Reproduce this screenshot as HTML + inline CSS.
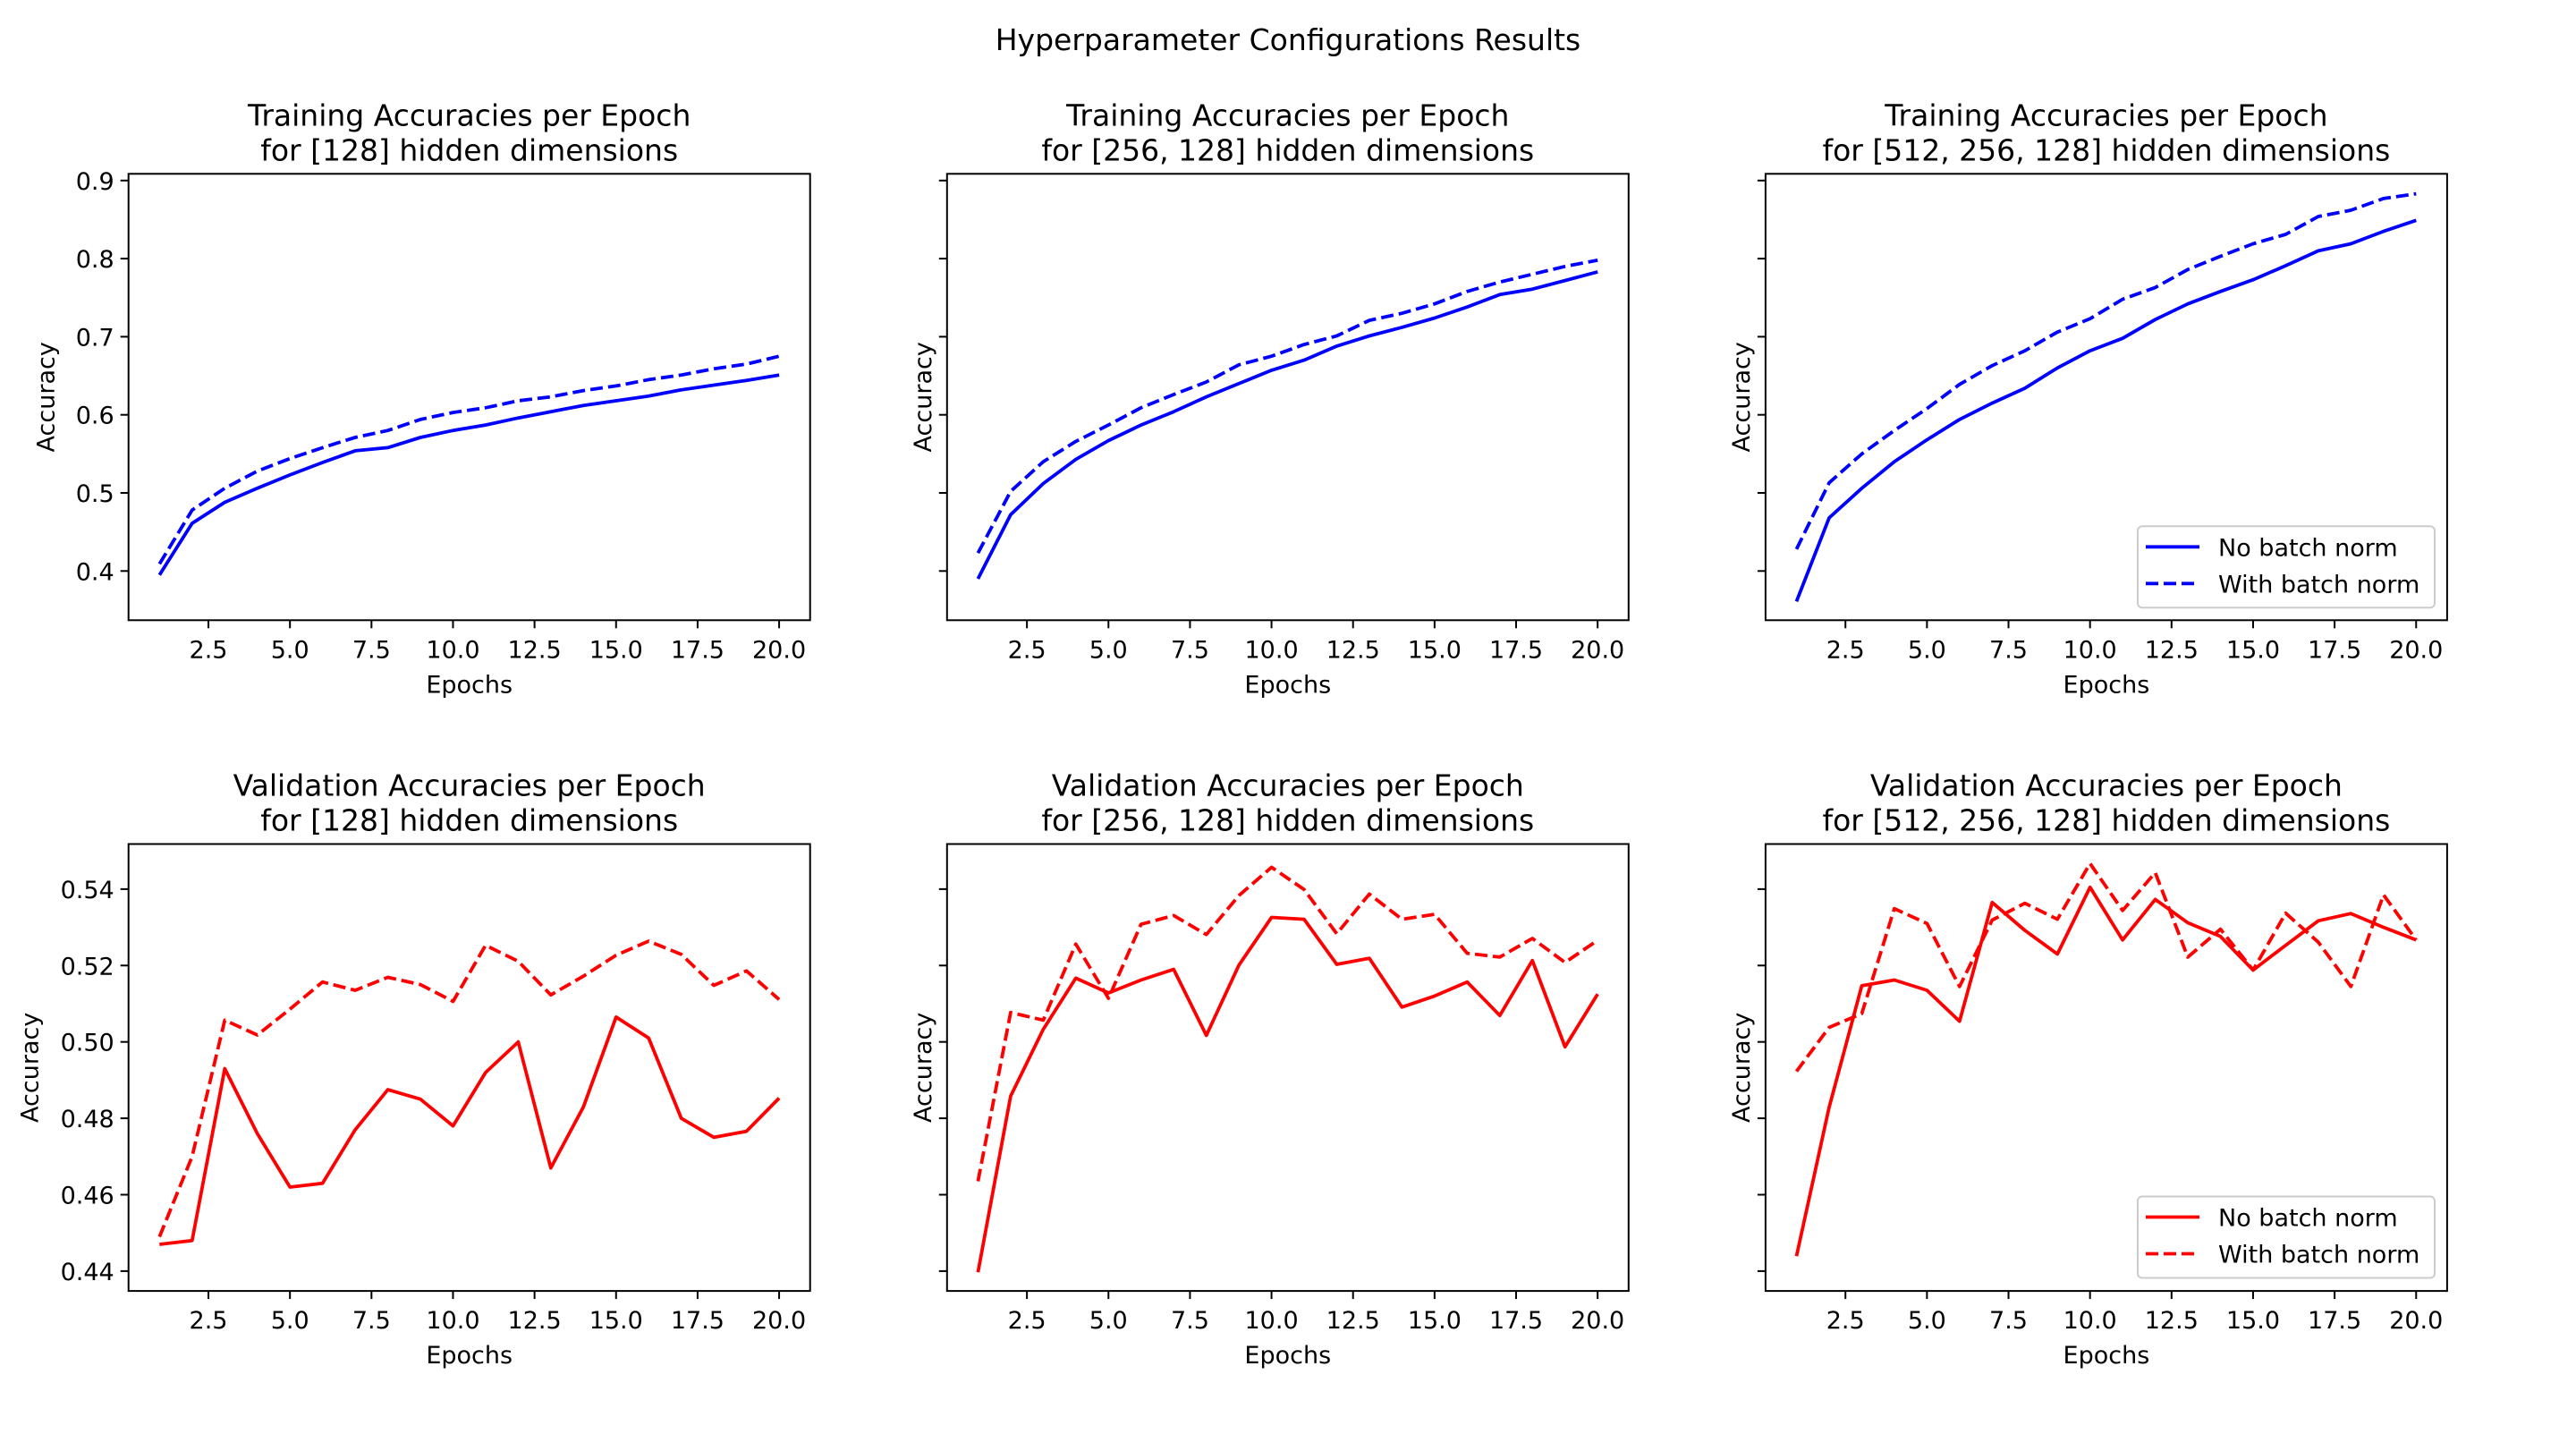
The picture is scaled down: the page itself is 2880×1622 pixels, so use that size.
<!DOCTYPE html>
<html><head><meta charset="utf-8">
<style>
html,body{margin:0;padding:0;background:#fff;}
svg{display:block;font-family:"DejaVu Sans","Liberation Sans",sans-serif;}
</style></head>
<body>
<svg id="fig" width="2880" height="1622" viewBox="0 0 2880 1622" xmlns="http://www.w3.org/2000/svg">
<rect width="2880" height="1622" fill="#fff"/>
<text x="1440" y="56" font-size="33" text-anchor="middle">Hyperparameter Configurations Results</text>
</svg>
<script>
const epochs = [1,2,3,4,5,6,7,8,9,10,11,12,13,14,15,16,17,18,19,20];
const xTicks = [2.5,5.0,7.5,10.0,12.5,15.0,17.5,20.0];
const trainTicks = [0.4,0.5,0.6,0.7,0.8,0.9];
const valTicks = [0.44,0.46,0.48,0.50,0.52,0.54];
const dims = ["[128]","[256, 128]","[512, 256, 128]"];

const train128No = [.395,.461,.488,.506,.523,.539,.554,.558,.571,.580,.587,.596,.604,.612,.618,.624,.632,.638,.644,.651];
const train128Bn = [.409,.478,.506,.528,.544,.558,.571,.580,.594,.603,.609,.618,.623,.631,.637,.645,.651,.659,.665,.675];
const train256No = [.390,.472,.512,.543,.567,.587,.604,.623,.640,.657,.670,.688,.701,.712,.724,.738,.754,.761,.772,.783];
const train256Bn = [.423,.502,.540,.566,.587,.609,.626,.642,.664,.675,.690,.701,.721,.730,.742,.758,.770,.780,.790,.798];
const train512No = [.361,.468,.506,.540,.568,.594,.615,.634,.660,.682,.698,.722,.742,.758,.773,.791,.810,.819,.835,.849];
const train512Bn = [.428,.513,.550,.580,.608,.639,.663,.682,.706,.723,.748,.763,.786,.803,.819,.831,.854,.862,.877,.883];

const val128No = [.447,.448,.493,.476,.462,.463,.477,.4875,.485,.478,.492,.500,.467,.483,.5065,.501,.480,.475,.4766,.4853];
const val128Bn = [.449,.470,.5057,.5018,.5086,.5157,.5135,.5169,.515,.5106,.5253,.5211,.5123,.5172,.5227,.5264,.5229,.5148,.5186,.5111];
const val256No = [.4397,.4858,.5033,.5167,.5128,.5162,.519,.5017,.5201,.5326,.5321,.5203,.5219,.5091,.512,.5157,.5069,.5213,.4987,.5125];
const val256Bn = [.4635,.5077,.5057,.5256,.5114,.5308,.5331,.5281,.5383,.5457,.5399,.5283,.5387,.5321,.5334,.5232,.5222,.5271,.5208,.5266];
const val512No = [.4439,.4829,.5147,.5162,.5135,.5054,.5365,.5292,.523,.5405,.5267,.5373,.5312,.5276,.5188,.5253,.5317,.5336,.53,.5267];
const val512Bn = [.4923,.5038,.5074,.5349,.531,.5145,.5319,.5363,.5321,.5467,.5344,.5443,.5222,.5295,.5188,.5337,.5261,.5145,.5385,.5267];

const NS = "http://www.w3.org/2000/svg";
const svg = document.getElementById('fig');
function mk(tag, attrs, parent){
  const e = document.createElementNS(NS, tag);
  for (const k in attrs) e.setAttribute(k, attrs[k]);
  (parent||svg).appendChild(e);
  return e;
}
const colLeft = [143.7, 1058.8, 1973.9];
const W = 762;
const rows = [
  {top:194.3, bottom:693.3, ymin:0.337, ymax:0.9086, ticks:trainTicks, fmt:v=>v.toFixed(1), color:'blue',
   name:'Training', series:[[train128No,train128Bn],[train256No,train256Bn],[train512No,train512Bn]], ylabX:63},
  {top:943.5, bottom:1443.1, ymin:0.4348, ymax:0.5518, ticks:valTicks, fmt:v=>v.toFixed(2), color:'red',
   name:'Validation', series:[[val128No,val128Bn],[val256No,val256Bn],[val512No,val512Bn]], ylabX:45}
];
rows.forEach((r, ri) => {
  for (let c = 0; c < 3; c++) {
    const L = colLeft[c];
    const xs = v => L + (v - 0.05) / (20.95 - 0.05) * W;
    const ys = v => r.bottom - (v - r.ymin) / (r.ymax - r.ymin) * (r.bottom - r.top);
    const g = mk('g', {});
    
    
    const t1 = mk('text', {x:L+W/2, y:r.top-54, 'font-size':33, 'text-anchor':'middle'}, g);
    t1.textContent = r.name + ' Accuracies per Epoch';
    
    
    const t2 = mk('text', {x:L+W/2, y:r.top-15, 'font-size':33, 'text-anchor':'middle'}, g);
    t2.textContent = 'for ' + dims[c] + ' hidden dimensions';
    
    
    const [no, bn] = r.series[c];
    [[no,null,'no-batch-norm-line'],[bn,'14 6','batch-norm-line']].forEach(([arr, dash, nm]) => {
      const pts = epochs.map((e,i) => xs(e).toFixed(1) + ',' + ys(arr[i]).toFixed(1)).join(' ');
      const a = {points:pts, fill:'none', stroke:r.color, 'stroke-width':3.8, 'stroke-linejoin':'round'};
      if (dash) a['stroke-dasharray'] = dash;
      const pl = mk('polyline', a, g);
      
      
    });
    const fr = mk('rect', {x:L, y:r.top, width:W, height:r.bottom-r.top, fill:'none', stroke:'#000', 'stroke-width':2}, g);
    
    
    xTicks.forEach(v => {
      const x = xs(v);
      mk('line', {x1:x, x2:x, y1:r.bottom, y2:r.bottom+9, stroke:'#000', 'stroke-width':2}, g);
      const tl = mk('text', {x:x, y:r.bottom+42, 'font-size':27, 'text-anchor':'middle'}, g);
      tl.textContent = v.toFixed(1);
      
      
    });
    const xl = mk('text', {x:L+W/2, y:r.bottom+81, 'font-size':27, 'text-anchor':'middle'}, g);
    xl.textContent = 'Epochs';
    
    
    r.ticks.forEach(v => {
      const y = ys(v);
      mk('line', {x1:L-9, x2:L, y1:y, y2:y, stroke:'#000', 'stroke-width':2}, g);
      if (c === 0) {
        const tl = mk('text', {x:L-16, y:y+10, 'font-size':27, 'text-anchor':'end'}, g);
        tl.textContent = r.fmt(v);
        
        
      }
    });
    const lx = c === 0 ? r.ylabX : L - 15;
    const ym = (r.top + r.bottom) / 2;
    const yl = mk('text', {x:lx, y:ym, 'font-size':27, 'text-anchor':'middle', transform:'rotate(-90 '+lx+' '+ym+')', dy:'-0.1em'}, g);
    yl.textContent = 'Accuracy';
    
    
    if (c === 2) {
      const lg = mk('g', {}, g);
      
      
      const ly = r.top + 394;
      mk('rect', {x:2390, y:ly, width:332, height:91, rx:5, fill:'#fff', 'fill-opacity':0.8, stroke:'#ccc', 'stroke-width':2}, lg);
      const e1 = mk('line', {x1:2399, x2:2459, y1:ly+23, y2:ly+23, stroke:r.color, 'stroke-width':3.8}, lg);
      
      
      const tx1 = mk('text', {x:2480, y:ly+33, 'font-size':27}, lg);
      tx1.textContent = 'No batch norm';
      const e2 = mk('line', {x1:2399, x2:2459, y1:ly+64, y2:ly+64, stroke:r.color, 'stroke-width':3.8, 'stroke-dasharray':'14 6'}, lg);
      
      
      const tx2 = mk('text', {x:2480, y:ly+74, 'font-size':27}, lg);
      tx2.textContent = 'With batch norm';
    }
  }
});
</script>
</body></html>
